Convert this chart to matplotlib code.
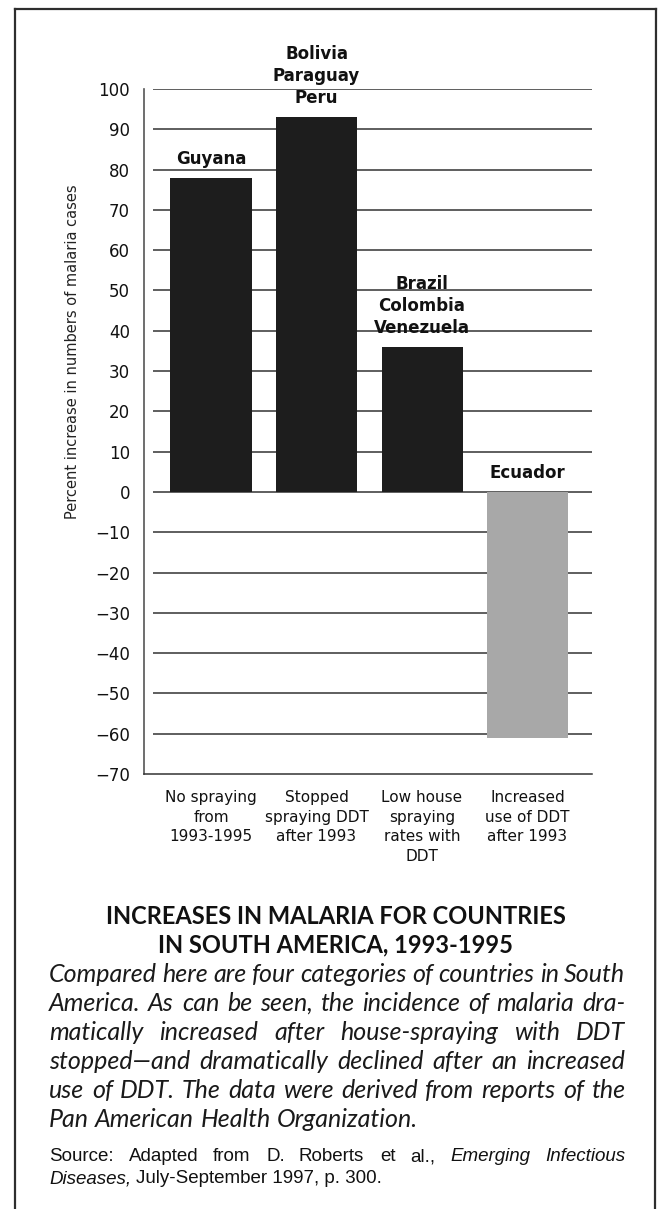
import matplotlib
matplotlib.use("Agg")
import matplotlib.pyplot as plt
from matplotlib.lines import Line2D

# chart data
categories = ["No spraying\nfrom\n1993-1995", "Stopped\nspraying DDT\nafter 1993",
              "Low house\nspraying\nrates with\nDDT", "Increased\nuse of DDT\nafter 1993"]
countries = ["Guyana", "Bolivia\nParaguay\nPeru", "Brazil\nColombia\nVenezuela", "Ecuador"]
increase = [78, 93, 36, -61]
bar_colors = ["#1d1d1d", "#1d1d1d", "#1d1d1d", "#a8a8a8"]
yticks = list(range(-70, 101, 10))
ylabel = "Percent increase in numbers of malaria cases"

# caption text
title_lines = ["INCREASES IN MALARIA FOR COUNTRIES", "IN SOUTH AMERICA, 1993-1995"]
caption_lines = [
    "Compared here are four categories of countries in South",
    "America. As can be seen, the incidence of malaria dra-",
    "matically increased after house-spraying with DDT",
    "stopped\u2014and dramatically declined after an increased",
    "use of DDT. The data were derived from reports of the",
    "Pan American Health Organization.",
]
source_lines = [
    [("Source:", "normal"), ("Adapted", "normal"), ("from", "normal"), ("D.", "normal"),
     ("Roberts", "normal"), ("et", "normal"), ("al.,", "normal"),
     ("Emerging", "italic"), ("Infectious", "italic")],
    [("Diseases,", "italic"), ("July-September 1997, p. 300.", "normal")],
]

W, H = 658, 1209
fig = plt.figure(figsize=(W / 100, H / 100), dpi=100)
fig.patch.set_facecolor("white")


def fx(x):
    return x / W


def fy(y):
    return 1 - y / H


# outer frame
frame_kw = dict(color="#2e2e2e", lw=1.6, transform=fig.transFigure)
fig.add_artist(Line2D([fx(15), fx(15)], [fy(9), fy(1212)], **frame_kw))
fig.add_artist(Line2D([fx(15), fx(656)], [fy(9), fy(9)], **frame_kw))
fig.add_artist(Line2D([fx(656), fx(655)], [fy(9), fy(1212)], **frame_kw))

# bar chart
ax = fig.add_axes([fx(144), fy(774), (592 - 144) / W, (774 - 89) / H])
xs = list(range(len(increase)))
ax.set_xlim(-0.635, 3.611)
ax.set_ylim(-70, 100)

ax.hlines(yticks[1:], -0.55, 3.611, color="#333333", lw=1.1, zorder=1)
ax.bar(xs, increase, width=0.768, color=bar_colors, zorder=2)

for x, v, name in zip(xs, increase, countries):
    ax.annotate(name, (x, max(v, 0)), xytext=(0, 7), textcoords="offset points",
                ha="center", va="bottom", fontsize=12, fontweight="bold",
                linespacing=1.3, color="#111111")

ax.set_yticks(yticks)
ax.set_yticklabels([f"{t}".replace("-", "\u2212") for t in yticks])
ax.tick_params(axis="y", length=0, pad=10, labelsize=12, labelcolor="#111111")
ax.set_xticks(xs)
ax.set_xticklabels(categories, fontsize=11, linespacing=1.38, color="#111111")
ax.tick_params(axis="x", length=0, pad=11.5)

for s in ["top", "right"]:
    ax.spines[s].set_visible(False)
ax.spines["left"].set_color("#555555")
ax.spines["left"].set_linewidth(1.2)
ax.spines["bottom"].set_color("#333333")
ax.spines["bottom"].set_linewidth(1.1)

fig.text(fx(73), fy(352), ylabel, rotation=90, ha="center", va="center",
         fontsize=10.5, color="#222222")

# caption
renderer = fig.canvas.get_renderer()


def put_line(words, base, x0, x1, justify, **kw):
    arts = [fig.text(0, fy(base), w, va="baseline", ha="left", fontstyle=st, **kw)
            for w, st in words]
    widths = [a.get_window_extent(renderer).width for a in arts]
    t2 = fig.text(0, 0, "x x", **kw)
    t1 = fig.text(0, 0, "xx", **kw)
    space = t2.get_window_extent(renderer).width - t1.get_window_extent(renderer).width
    t2.remove()
    t1.remove()
    gap = space
    if justify and len(arts) > 1:
        gap = max((x1 - x0 - sum(widths)) / (len(arts) - 1), 0.6 * space)
    x = x0
    for a, w in zip(arts, widths):
        a.set_x(fx(round(x)))
        x += w + gap


for i, line in enumerate(title_lines):
    fig.text(fx(336), fy(924 + 28 * i), line, ha="center", va="baseline",
             family="Lato", fontweight="bold", fontsize=17, color="#111111")

for i, line in enumerate(caption_lines):
    words = [(w, "italic") for w in line.split(" ")]
    put_line(words, 982 + 29 * i, 49, 625, i < len(caption_lines) - 1,
             family="Lato", fontsize=18, color="#1a1a1a")

for i, line in enumerate(source_lines):
    put_line(line, 1161 + 22 * i, 49, 625, i == 0,
             family="Liberation Sans", fontsize=13.5, color="#111111")

fig.savefig("out.png", dpi=100)
